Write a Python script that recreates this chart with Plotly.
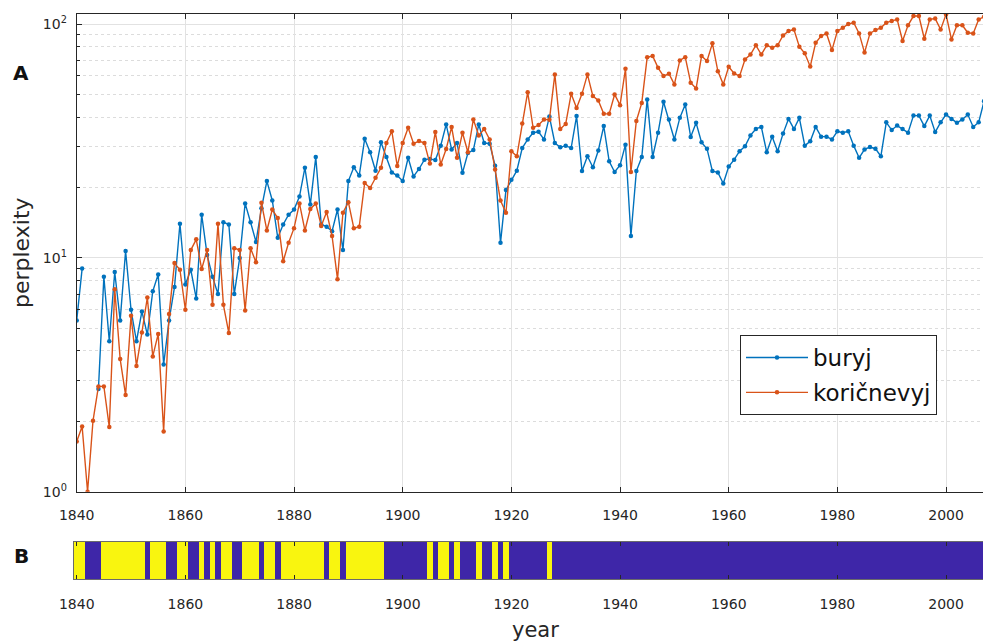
import plotly.graph_objects as go

# ---- data -------------------------------------------------------------
years = list(range(1840, 2008))

buryj = [
    5.4, 9.0, None, None, 2.75, 8.3, 4.4, 8.7, 5.4, 10.7,            # 1840-1849
    6.0, 4.4, 5.9, 4.7, 7.2, 8.5, 3.5, 5.4, 7.5, 14.0,               # 1850-1859
    7.7, 8.9, 6.7, 15.3, 10.3, 8.3, 7.0, 14.2, 13.9, 7.0,            # 1860-1869
    10.0, 17.1, 14.2, 11.7, 16.3, 21.3, 17.6, 12.2, 13.9, 15.3,      # 1870-1879
    16.1, 18.3, 24.3, 16.9, 27.0, 13.9, 13.6, 13.0, 16.1, 10.8,      # 1880-1889
    21.3, 24.4, 22.5, 32.3, 28.3, 23.6, 31.2, 27.0, 23.2, 22.5,      # 1890-1899
    21.3, 26.8, 22.3, 24.0, 26.3, 26.5, 26.2, 30.2, 37.2, 29.1,      # 1900-1909
    31.0, 23.1, 28.1, 28.9, 37.2, 31.0, 30.8, 24.8, 11.6, 19.5,      # 1910-1919
    21.6, 23.6, 29.5, 32.1, 34.3, 34.6, 32.1, 40.2, 31.0, 29.7,      # 1920-1929
    30.2, 29.5, 40.4, 23.5, 27.2, 24.4, 28.8, 36.6, 25.9, 23.3,      # 1930-1939
    24.9, 30.5, 12.4, 23.5, 27.0, 47.6, 27.0, 34.3, 46.5, 39.1,      # 1940-1949
    32.1, 39.7, 45.3, 32.9, 37.8, 31.2, 29.3, 23.5, 23.2, 20.8,      # 1950-1959
    24.6, 26.3, 28.6, 30.0, 33.4, 35.6, 36.3, 28.3, 33.0, 28.6,      # 1960-1969
    34.0, 39.3, 35.6, 39.7, 30.2, 31.5, 36.3, 33.0, 33.0, 32.1,      # 1970-1979
    34.8, 34.3, 34.8, 30.2, 26.8, 29.1, 29.8, 29.3, 27.2, 38.0,      # 1980-1989
    35.2, 36.8, 35.6, 34.3, 40.6, 40.6, 36.6, 40.6, 34.5, 38.0,      # 1990-1999
    41.0, 39.3, 37.8, 39.1, 41.0, 36.3, 38.0, 46.8,                  # 2000-2007
]

koricnevyj = [
    1.64, 1.90, 1.0, 2.01, 2.82, 2.82, 1.89, 7.35, 3.69, 2.59,       # 1840-1849
    5.65, 3.45, 4.80, 6.77, 3.79, 4.73, 1.81, 5.75, 9.50, 8.90,      # 1850-1859
    6.00, 10.8, 12.0, 8.96, 10.8, 6.30, 14.0, 6.30, 4.77, 11.0,      # 1860-1869
    10.8, 5.96, 11.0, 9.57, 17.2, 13.1, 16.1, 14.8, 9.67, 11.6,      # 1870-1879
    13.4, 17.1, 13.1, 16.2, 17.1, 13.7, 15.7, 12.4, 8.11, 15.6,      # 1880-1889
    17.3, 13.4, 13.6, 20.9, 19.9, 22.0, 24.3, 31.0, 34.8, 24.7,      # 1890-1899
    31.0, 36.0, 30.8, 31.6, 31.0, 25.3, 34.5, 25.1, 29.2, 36.3,      # 1900-1909
    26.8, 34.3, 28.3, 39.1, 33.4, 35.6, 32.1, 23.9, 17.6, 15.6,      # 1910-1919
    28.6, 27.2, 37.6, 51.1, 36.0, 37.0, 39.1, 39.0, 60.9, 35.6,      # 1920-1929
    37.4, 50.3, 43.8, 50.3, 60.9, 49.2, 47.1, 41.3, 41.3, 50.0,      # 1930-1939
    45.0, 64.4, 23.3, 38.5, 46.0, 72.2, 73.0, 65.0, 59.9, 61.3,      # 1940-1949
    55.2, 69.9, 72.2, 56.1, 53.0, 73.0, 69.5, 82.7, 62.9, 55.2,      # 1950-1959
    65.7, 61.5, 59.9, 70.6, 74.1, 81.1, 74.1, 81.1, 79.2, 81.1,      # 1960-1969
    89.4, 93.3, 94.8, 80.0, 75.0, 65.8, 83.2, 88.9, 91.2, 77.4,      # 1970-1979
    93.3, 96.4, 100.0, 101.4, 91.2, 75.5, 91.2, 94.3, 96.4, 101.4,   # 1980-1989
    103.0, 104.7, 84.6, 98.8, 108.2, 108.2, 86.5, 104.7, 105.5, 94.8,  # 1990-1999
    110.0, 85.9, 98.8, 98.8, 91.8, 91.2, 104.7, 107.4,               # 2000-2007
]

series_names = ["buryj", "koričnevyj"]
x_ticks = [1840, 1860, 1880, 1900, 1920, 1940, 1960, 1980, 2000]
y_ticks = [1, 10, 100]
y_ticktext = ["10<sup>0</sup>", "10<sup>1</sup>", "10<sup>2</sup>"]
y_minor = [2, 3, 4, 5, 6, 7, 8, 9, 20, 30, 40, 50, 60, 70, 80, 90]

# strip B: 1 where 'buryj' is the more perplexing of the two in that year
which_higher = [1 if (b is not None and b > k) else 0
                for b, k in zip(buryj, koricnevyj)]

# ---- styling ----------------------------------------------------------
W, H = 983, 644
ML, MR, MT, MB = 74, 0, 14, 65
PW, PH = W - ML - MR, H - MT - MB
FONT = "DejaVu Sans, Verdana, sans-serif"
INK = "#262626"
BLUE = "#0072BD"
ORANGE = "#D95319"


def px_x(px):
    return (px - ML) / PW


def px_y(py):
    return (H - MB - py) / PH


fig = go.Figure()

for i, (name, vals, col) in enumerate([(series_names[0], buryj, BLUE),
                                       (series_names[1], koricnevyj, ORANGE)]):
    fig.add_trace(go.Scatter(
        x=years, y=vals, name=name, mode="lines+markers",
        legendgroup=f"g{i}",
        line=dict(color=col, width=1.4),
        marker=dict(color=col, size=4.5),
        connectgaps=False, xaxis="x", yaxis="y",
    ))

fig.add_trace(go.Heatmap(
    x=years, y=[0], z=[which_higher], zmin=0, zmax=1,
    colorscale=[[0, "#3E26A8"], [1, "#F9F50F"]],
    showscale=False, xaxis="x2", yaxis="y2", hoverinfo="skip",
))

axis_font = dict(family=FONT, size=14, color=INK)

fig.update_layout(
    width=W, height=H,
    margin=dict(l=ML, r=MR, t=MT, b=MB),
    paper_bgcolor="white", plot_bgcolor="white",
    font=dict(family=FONT, color=INK),
    showlegend=True,
    legend=dict(
        x=px_x(740), y=px_y(335), xanchor="left", yanchor="top",
        bgcolor="white", bordercolor=INK, borderwidth=1,
        font=dict(family=FONT, size=23, color="#111111"),
        traceorder="grouped", tracegroupgap=2, itemwidth=62,
    ),
    xaxis=dict(
        domain=[px_x(76.7), 1], range=[1840, 2006.8], anchor="y",
        tickmode="array", tickvals=x_ticks, tickfont=axis_font,
        ticks="inside", ticklen=5, tickcolor=INK,
        showline=True, linecolor=INK, linewidth=1, mirror="ticks",
        showgrid=True, gridcolor="#e2e2e2", gridwidth=1,
        zeroline=False, ticklabelstandoff=10,
    ),
    yaxis=dict(
        type="log", domain=[px_y(491.7), 1], range=[0, 2.043], anchor="x",
        tickmode="array", tickvals=y_ticks, ticktext=y_ticktext,
        tickfont=axis_font,
        ticks="inside", ticklen=5, tickcolor=INK,
        showline=True, linecolor=INK, linewidth=1,
        showgrid=True, gridcolor="#e2e2e2", gridwidth=1,
        minor=dict(tickmode="array", tickvals=y_minor, ticks="inside",
                   ticklen=3, tickcolor=INK, showgrid=True,
                   gridcolor="#dcdcdc", griddash="3px,3px", gridwidth=1),
        zeroline=False, ticklabelstandoff=6,
    ),
    xaxis2=dict(
        domain=[0, 1], range=[1839.5, 2006.8], anchor="y2",
        tickmode="array", tickvals=x_ticks, tickfont=axis_font,
        ticks="inside", ticklen=4, tickcolor=INK,
        showline=True, linecolor="#6b6b6b", linewidth=1, mirror="ticks",
        showgrid=False, zeroline=False, ticklabelstandoff=12,
    ),
    yaxis2=dict(
        domain=[0, px_y(542)], range=[-0.5, 0.5], anchor="x2",
        showticklabels=False, ticks="", showgrid=False, zeroline=False,
        showline=True, linecolor="#6b6b6b", linewidth=1, mirror=True,
    ),
)

annotations = [
    dict(text="<b>A</b>", x=px_x(21), y=px_y(73), font=dict(size=20, color="#111111")),
    dict(text="<b>B</b>", x=px_x(21), y=px_y(556), font=dict(size=20, color="#111111")),
    dict(text="perplexity", x=px_x(21), y=px_y(253), textangle=-90,
         font=dict(size=22, color=INK)),
    dict(text="year", x=px_x(535), y=px_y(630), font=dict(size=21, color=INK)),
]
for a in annotations:
    a.update(xref="paper", yref="paper", showarrow=False,
             xanchor="center", yanchor="middle")
    a["font"]["family"] = FONT
fig.update_layout(annotations=annotations)

fig.write_html("out.html")
